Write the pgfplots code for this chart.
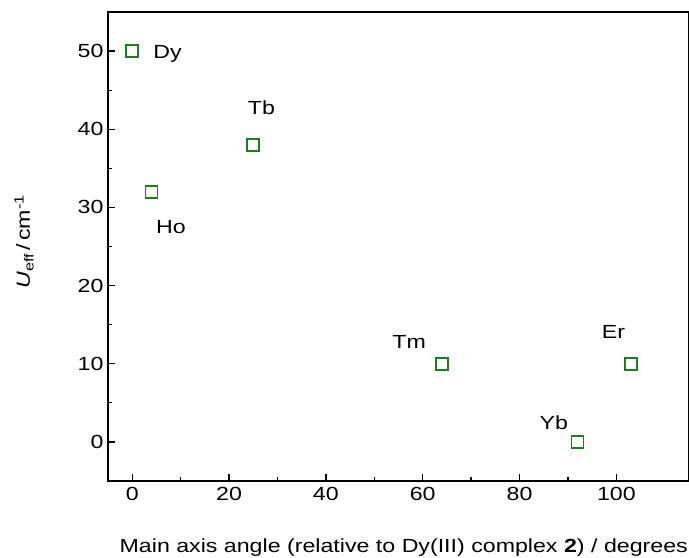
\documentclass[border=0pt]{standalone}
\usepackage{fontspec}
\setmainfont{Liberation Sans}[FakeStretch=1.22]
\usepackage{pgfplots}
\pgfplotsset{compat=1.18}
\definecolor{mk}{RGB}{30,125,30}
\begin{document}
\begin{tikzpicture}
\begin{axis}[
  scale only axis, width=581pt, height=469pt,
  xmin=-5, xmax=115, ymin=-5, ymax=55,
  xtick={0,20,...,100}, ytick={0,10,...,50},
  minor x tick num=1, minor y tick num=1,
  tick align=inside, tick pos=left,
  major tick length=7pt, minor tick length=4pt,
  axis line style={line width=1.6pt},
  every tick/.style={line width=1.3pt, black},
  /pgf/number format/assume math mode=true,
  tick label style={font=\fontsize{19}{21}\selectfont},
  xticklabel style={yshift=-3pt},
  yticklabel style={xshift=-1pt},
  label style={font=\fontsize{19}{21}\selectfont},
  xlabel={Main axis angle (relative to Dy(III) complex \textbf{2}) / degrees},
  xlabel style={at={(axis description cs:0.509,-0.153)}, anchor=base},
  ylabel={\textit{U}\textsubscript{eff}\,/\,cm\textsuperscript{-1}},
  ylabel style={at={(axis description cs:-0.1445,0.51)}, anchor=center},
  clip=false,
]
\addplot[only marks, mark=square, mark size=6pt, mark options={line width=1.6pt, draw=mk, fill=none}]
  coordinates {(0,50) (4,32) (25,38) (64,10) (92,0) (103,10)};
\begin{scope}[every node/.style={font=\fontsize{19}{21}\selectfont, anchor=base}]
\node at (axis cs:7.3,49.0) {Dy};
\node at (axis cs:8.0,26.7) {Ho};
\node at (axis cs:26.7,41.9) {Tb};
\node at (axis cs:57.2,12.0) {Tm};
\node at (axis cs:87.1,1.65) {Yb};
\node at (axis cs:99.4,13.2) {Er};
\end{scope}
\end{axis}
\pgfresetboundingbox
\useasboundingbox ([xshift=-108pt,yshift=-77pt]current axis.south west) rectangle ([yshift=12pt]current axis.north east);
\end{tikzpicture}
\end{document}
